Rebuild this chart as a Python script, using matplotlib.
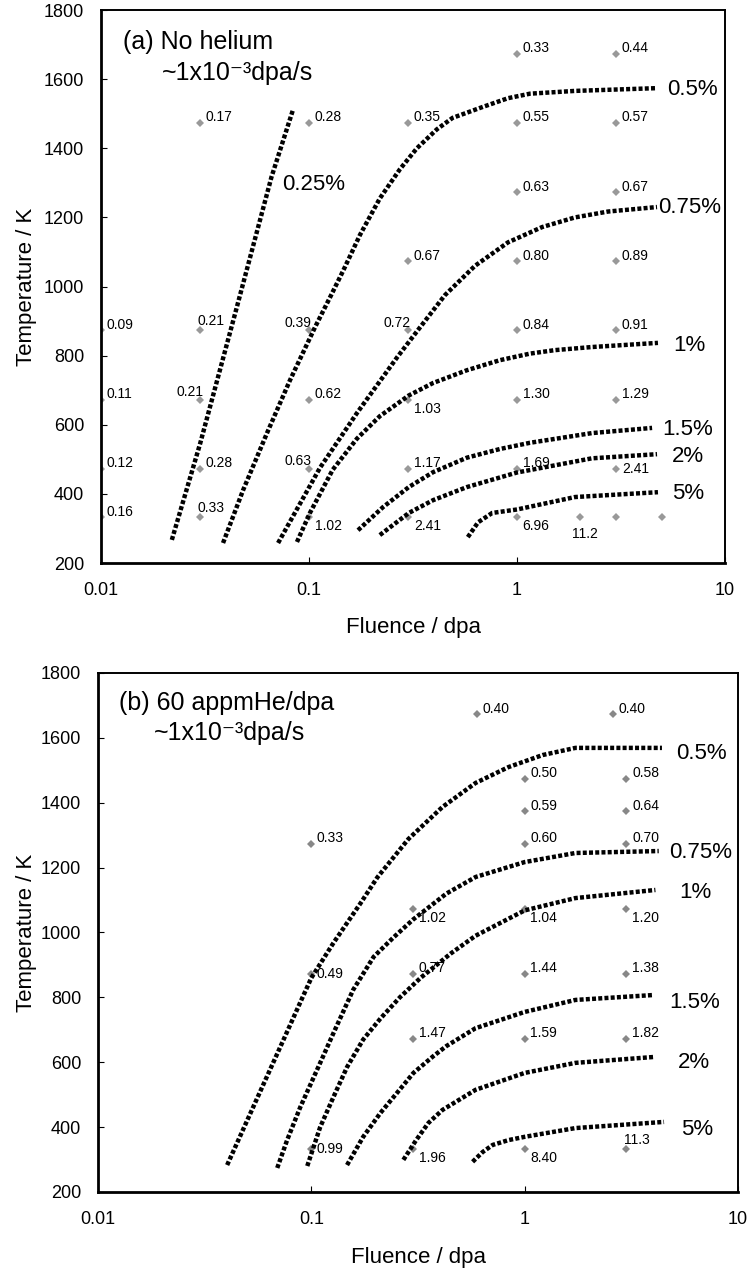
import matplotlib.pyplot as plt
from matplotlib.ticker import FixedLocator, FixedFormatter, NullLocator

plt.rcParams['font.family'] = ['Liberation Sans', 'DejaVu Sans']

# ---- panel (a) : no helium ----
a_fluence = [1, 3,
             0.03, 0.1, 0.3, 1, 3,
             1, 3,
             0.3, 1, 3,
             0.01, 0.03, 0.1, 0.3, 1, 3,
             0.01, 0.03, 0.1, 0.3, 1, 3,
             0.01, 0.03, 0.1, 0.3, 1, 3,
             0.01, 0.03, 0.1, 0.3, 1, 2, 3, 5]
a_temp = [1673, 1673,
          1473, 1473, 1473, 1473, 1473,
          1273, 1273,
          1073, 1073, 1073,
          873, 873, 873, 873, 873, 873,
          673, 673, 673, 673, 673, 673,
          473, 473, 473, 473, 473, 473,
          333, 333, 333, 333, 333, 333, 333, 333]
a_value = ['0.33', '0.44',
           '0.17', '0.28', '0.35', '0.55', '0.57',
           '0.63', '0.67',
           '0.67', '0.80', '0.89',
           '0.09', '0.21', '0.39', '0.72', '0.84', '0.91',
           '0.11', '0.21', '0.62', '1.03', '1.30', '1.29',
           '0.12', '0.28', '0.63', '1.17', '1.69', '2.41',
           '0.16', '0.33', '1.02', '2.41', '6.96', '11.2', '', '']
# where each small label sits relative to its marker
a_place = ['r', 'r',
           'r', 'r', 'r', 'r', 'r',
           'r', 'r',
           'r', 'r', 'r',
           'r', 'u', 'ul', 'ul', 'r', 'r',
           'r', 'ul', 'r', 'lr', 'r', 'r',
           'r', 'r', 'ul', 'r', 'r', 'r0',
           'r', 'u', 'lr', 'lr', 'lr', 'b', '', '']

a_curve_names = ['0.25%', '0.5%', '0.75%', '1%', '1.5%', '2%', '5%']
a_curve_f = [
    [0.0219, 0.030, 0.045, 0.066, 0.084],
    [0.0386, 0.0482, 0.0628, 0.081, 0.107, 0.126, 0.146, 0.176, 0.219, 0.274, 0.33, 0.412,
     0.49, 0.687, 0.906, 1.155, 1.9, 4.71],
    [0.071, 0.113, 0.170, 0.265, 0.33, 0.45, 0.628, 0.906, 1.32, 1.9, 2.74, 4.71],
    [0.0875, 0.101, 0.130, 0.170, 0.219, 0.302, 0.395, 0.575, 0.828, 1.155, 1.52, 2.29, 4.76],
    [0.172, 0.227, 0.302, 0.395, 0.575, 0.828, 1.155, 2.29, 4.46],
    [0.219, 0.302, 0.395, 0.575, 1.0, 2.29, 4.71],
    [0.58, 0.65, 0.76, 1.0, 1.9, 4.76],
]
a_curve_T = [
    [267, 547, 941, 1317, 1514],
    [258, 411, 576, 729, 883, 968, 1046, 1150, 1255, 1340, 1400, 1455,
     1488, 1520, 1545, 1558, 1566, 1574],
    [258, 476, 634, 795, 870, 975, 1060, 1128, 1172, 1200, 1217, 1230],
    [261, 345, 470, 560, 625, 685, 721, 758, 787, 806, 816, 825, 837],
    [295, 362, 420, 463, 505, 530, 548, 576, 591],
    [281, 345, 382, 420, 462, 503, 515],
    [275, 318, 345, 355, 391, 405],
]
a_name_f = [0.0742, 5.26, 4.76, 5.62, 4.98, 5.55, 5.55]
a_name_T = [1294, 1571, 1230, 828, 585, 507, 402]

# ---- panel (b) : 60 appmHe/dpa ----
b_fluence = [0.6, 2.6, 1, 3, 1, 3, 0.1, 1, 3, 0.3, 1, 3,
             0.1, 0.3, 1, 3, 0.3, 1, 3, 0.1, 0.3, 1, 3]
b_temp = [1673, 1673, 1473, 1473, 1373, 1373, 1273, 1273, 1273, 1073, 1073, 1073,
          873, 873, 873, 873, 673, 673, 673, 333, 333, 333, 333]
b_value = ['0.40', '0.40', '0.50', '0.58', '0.59', '0.64', '0.33', '0.60', '0.70',
           '1.02', '1.04', '1.20', '0.49', '0.77', '1.44', '1.38', '1.47', '1.59', '1.82',
           '0.99', '1.96', '8.40', '11.3']
b_place = ['r', 'r', 'r', 'r', 'r', 'r', 'r', 'r', 'r',
           'lr', 'lr', 'lr', 'r0', 'r', 'r', 'r', 'r', 'r', 'r',
           'r0', 'lr', 'lr', 'u']

b_curve_names = ['0.5%', '0.75%', '1%', '1.5%', '2%', '5%']
b_curve_f = [
    [0.0403, 0.0534, 0.0715, 0.0888, 0.1, 0.127, 0.17, 0.204, 0.285, 0.412, 0.589, 0.841,
     1.215, 1.73, 4.4],
    [0.0692, 0.077, 0.0888, 0.110, 0.127, 0.157, 0.196, 0.243, 0.3, 0.43, 0.589, 1.0,
     1.73, 4.25],
    [0.0957, 0.110, 0.127, 0.147, 0.175, 0.211, 0.26, 0.325, 0.45, 0.589, 1.0, 1.73, 4.1],
    [0.147, 0.175, 0.211, 0.254, 0.301, 0.372, 0.43, 0.589, 1.0, 1.73, 3.98],
    [0.27, 0.31, 0.354, 0.412, 0.589, 1.0, 1.73, 4.0],
    [0.57, 0.635, 0.708, 0.841, 1.0, 1.73, 4.5],
]
b_curve_T = [
    [283, 462, 647, 785, 860, 968, 1090, 1170, 1288, 1387, 1461, 1510,
     1547, 1569, 1569],
    [274, 360, 462, 598, 690, 823, 925, 985, 1040, 1120, 1171, 1217,
     1245, 1251],
    [280, 400, 493, 585, 670, 735, 800, 860, 935, 990, 1068, 1106, 1131],
    [283, 370, 444, 508, 567, 618, 650, 705, 755, 792, 807],
    [299, 360, 413, 453, 515, 567, 598, 616],
    [293, 323, 345, 360, 370, 397, 416],
]
b_name_f = [5.12, 4.75, 5.28, 4.75, 5.2, 5.4]
b_name_T = [1553, 1248, 1122, 783, 598, 394]

x_ticks = [0.01, 0.1, 1, 10]
x_ticklabels = ['0.01', '0.1', '1', '10']
y_ticks = [200, 400, 600, 800, 1000, 1200, 1400, 1600, 1800]

# label offsets (points) per placement code
offsets = {
    'r': ((4, 4), 'left'),
    'r0': ((4, 0), 'left'),
    'ul': ((2, 5.5), 'right'),
    'u': ((-2, 6.5), 'left'),
    'lr': ((4, -6.5), 'left'),
    'b': ((4, -12.5), 'center'),
}


def draw_panel(ax, fl, tp, vals, place, cf, ct, names, nf, nt, mcolor, title1, title2, tpos):
    ax.plot(fl, tp, 'D', color=mcolor, markersize=4.5, markeredgewidth=0, zorder=2)
    for f, t, v, p in zip(fl, tp, vals, place):
        if not v:
            continue
        off, ha = offsets[p]
        ax.annotate(v, (f, t), xytext=off, textcoords='offset points',
                    ha=ha, va='center', fontsize=10, zorder=3)
    for f, t in zip(cf, ct):
        ax.plot(f, t, color='black', lw=3.2, linestyle=(0, (0.9, 0.5)),
                dash_capstyle='butt', dash_joinstyle='round', zorder=4)
    for name, f, t in zip(names, nf, nt):
        ax.text(f, t, name, fontsize=16, ha='left', va='center', zorder=5)

    ax.set_xscale('log')
    ax.set_xlim(0.01, 10)
    ax.set_ylim(200, 1800)
    ax.xaxis.set_major_locator(FixedLocator(x_ticks))
    ax.xaxis.set_major_formatter(FixedFormatter(x_ticklabels))
    ax.xaxis.set_minor_locator(NullLocator())
    ax.yaxis.set_major_locator(FixedLocator(y_ticks))
    ax.tick_params(axis='both', direction='in', length=4, width=0.8, labelsize=13)
    ax.tick_params(axis='x', pad=14)
    ax.tick_params(axis='y', pad=12)
    for s in ['left', 'bottom']:
        ax.spines[s].set_linewidth(2.0)
    for s in ['top', 'right']:
        ax.spines[s].set_linewidth(1.4)

    ax.text(tpos[0], tpos[1], title1, transform=ax.transAxes, fontsize=18,
            ha='left', va='center')
    ax.text(tpos[2], tpos[3], title2, transform=ax.transAxes, fontsize=18,
            ha='left', va='center')
    ax.set_ylabel('Temperature / K', fontsize=16)
    ax.set_xlabel('Fluence / dpa', fontsize=16)


fig = plt.figure(figsize=(7.5, 12.69), dpi=100)
ax1 = fig.add_axes([0.1347, 0.5563, 0.832, 0.4358])
ax2 = fig.add_axes([0.1307, 0.0607, 0.8533, 0.409])

draw_panel(ax1, a_fluence, a_temp, a_value, a_place, a_curve_f, a_curve_T,
           a_curve_names, a_name_f, a_name_T, '#999999',
           '(a) No helium', '~1x10⁻³dpa/s', (0.036, 0.942, 0.097, 0.886))
draw_panel(ax2, b_fluence, b_temp, b_value, b_place, b_curve_f, b_curve_T,
           b_curve_names, b_name_f, b_name_T, '#888888',
           '(b) 60 appmHe/dpa', '~1x10⁻³dpa/s', (0.032, 0.942, 0.087, 0.884))

ax1.yaxis.set_label_coords(-0.103, 0.5)
ax1.xaxis.set_label_coords(0.5, -0.097)
ax2.yaxis.set_label_coords(-0.095, 0.5)
ax2.xaxis.set_label_coords(0.5, -0.106)

fig.savefig('out.png', dpi=100)
